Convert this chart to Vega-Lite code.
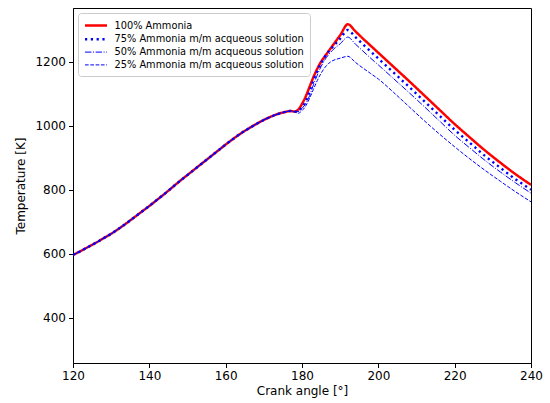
{
  "$schema": "https://vega.github.io/schema/vega-lite/v6.json",
  "width": 458,
  "height": 355,
  "autosize": {"type": "none"},
  "padding": {"left": 73, "top": 8, "right": 19, "bottom": 40},
  "background": "white",
  "config": {
    "font": "DejaVu Sans",
    "view": {"stroke": "black", "strokeWidth": 1},
    "axis": {
      "grid": false, "domainColor": "black", "tickColor": "black", "tickSize": 4.5,
      "labelFontSize": 12, "titleFontSize": 12, "titleFontWeight": "normal",
      "labelColor": "black", "titleColor": "black", "labelPadding": 3, "labelFont": "DejaVu Sans", "titleFont": "DejaVu Sans",
      "labelFlush": false, "format": "d"
    },
    "legend": {"labelFont": "DejaVu Sans"}
  },
  "data": {"values": [
    {"s":"100","x":120,"y":596},{"s":"100","x":122,"y":608},{"s":"100","x":124,"y":621},{"s":"100","x":126,"y":634},{"s":"100","x":128,"y":648},{"s":"100","x":130,"y":662},{"s":"100","x":132,"y":678},{"s":"100","x":134,"y":695},{"s":"100","x":136,"y":713},{"s":"100","x":138,"y":731},{"s":"100","x":140,"y":749},{"s":"100","x":142,"y":768},{"s":"100","x":144,"y":787},{"s":"100","x":146,"y":807},{"s":"100","x":148,"y":827},{"s":"100","x":150,"y":846},{"s":"100","x":152,"y":865},{"s":"100","x":154,"y":884},{"s":"100","x":156,"y":903},{"s":"100","x":158,"y":922},{"s":"100","x":160,"y":941},{"s":"100","x":162,"y":959},{"s":"100","x":164,"y":976},{"s":"100","x":166,"y":991},{"s":"100","x":168,"y":1005},{"s":"100","x":170,"y":1018},{"s":"100","x":172,"y":1029},{"s":"100","x":174,"y":1038},{"s":"100","x":176,"y":1044},{"s":"100","x":177,"y":1046},{"s":"100","x":178,"y":1044},
    {"s":"100","x":179,"y":1050},{"s":"100","x":180,"y":1068},{"s":"100","x":181,"y":1092},{"s":"100","x":182,"y":1122},{"s":"100","x":183,"y":1152},{"s":"100","x":184,"y":1178},{"s":"100","x":185,"y":1200},{"s":"100","x":186,"y":1217},{"s":"100","x":188,"y":1250},{"s":"100","x":190,"y":1283},{"s":"100","x":192,"y":1317},{"s":"100","x":194,"y":1295},{"s":"100","x":196,"y":1272},{"s":"100","x":198,"y":1250},{"s":"100","x":200,"y":1228},{"s":"100","x":204,"y":1184},{"s":"100","x":208,"y":1140},{"s":"100","x":212,"y":1095},{"s":"100","x":216,"y":1050},{"s":"100","x":220,"y":1005},{"s":"100","x":224,"y":963},{"s":"100","x":228,"y":922},{"s":"100","x":232,"y":884},{"s":"100","x":236,"y":848},{"s":"100","x":240,"y":815},

    {"s":"75","x":120,"y":596},{"s":"75","x":122,"y":608},{"s":"75","x":124,"y":621},{"s":"75","x":126,"y":634},{"s":"75","x":128,"y":648},{"s":"75","x":130,"y":662},{"s":"75","x":132,"y":678},{"s":"75","x":134,"y":695},{"s":"75","x":136,"y":713},{"s":"75","x":138,"y":731},{"s":"75","x":140,"y":749},{"s":"75","x":142,"y":768},{"s":"75","x":144,"y":787},{"s":"75","x":146,"y":807},{"s":"75","x":148,"y":827},{"s":"75","x":150,"y":846},{"s":"75","x":152,"y":865},{"s":"75","x":154,"y":884},{"s":"75","x":156,"y":903},{"s":"75","x":158,"y":922},{"s":"75","x":160,"y":941},{"s":"75","x":162,"y":959},{"s":"75","x":164,"y":976},{"s":"75","x":166,"y":991},{"s":"75","x":168,"y":1005},{"s":"75","x":170,"y":1018},{"s":"75","x":172,"y":1029},{"s":"75","x":174,"y":1038},{"s":"75","x":176,"y":1044},{"s":"75","x":177,"y":1046},{"s":"75","x":178,"y":1044},
    {"s":"75","x":179,"y":1046},{"s":"75","x":180,"y":1058},{"s":"75","x":181,"y":1076},{"s":"75","x":182,"y":1108},{"s":"75","x":183,"y":1142},{"s":"75","x":184,"y":1170},{"s":"75","x":185,"y":1195},{"s":"75","x":186,"y":1216},{"s":"75","x":188,"y":1246},{"s":"75","x":190,"y":1272},{"s":"75","x":192,"y":1299},{"s":"75","x":194,"y":1277},{"s":"75","x":196,"y":1254},{"s":"75","x":198,"y":1232},{"s":"75","x":200,"y":1210},{"s":"75","x":204,"y":1166},{"s":"75","x":208,"y":1122},{"s":"75","x":212,"y":1077},{"s":"75","x":216,"y":1032},{"s":"75","x":220,"y":987},{"s":"75","x":224,"y":946},{"s":"75","x":228,"y":905},{"s":"75","x":232,"y":868},{"s":"75","x":236,"y":832},{"s":"75","x":240,"y":800},

    {"s":"50","x":120,"y":596},{"s":"50","x":122,"y":608},{"s":"50","x":124,"y":621},{"s":"50","x":126,"y":634},{"s":"50","x":128,"y":648},{"s":"50","x":130,"y":662},{"s":"50","x":132,"y":678},{"s":"50","x":134,"y":695},{"s":"50","x":136,"y":713},{"s":"50","x":138,"y":731},{"s":"50","x":140,"y":749},{"s":"50","x":142,"y":768},{"s":"50","x":144,"y":787},{"s":"50","x":146,"y":807},{"s":"50","x":148,"y":827},{"s":"50","x":150,"y":846},{"s":"50","x":152,"y":865},{"s":"50","x":154,"y":884},{"s":"50","x":156,"y":903},{"s":"50","x":158,"y":922},{"s":"50","x":160,"y":941},{"s":"50","x":162,"y":959},{"s":"50","x":164,"y":976},{"s":"50","x":166,"y":991},{"s":"50","x":168,"y":1005},{"s":"50","x":170,"y":1018},{"s":"50","x":172,"y":1029},{"s":"50","x":174,"y":1038},{"s":"50","x":176,"y":1044},{"s":"50","x":177,"y":1046},{"s":"50","x":178,"y":1044},
    {"s":"50","x":179,"y":1044},{"s":"50","x":180,"y":1054},{"s":"50","x":181,"y":1070},{"s":"50","x":182,"y":1094},{"s":"50","x":183,"y":1128},{"s":"50","x":184,"y":1158},{"s":"50","x":185,"y":1185},{"s":"50","x":186,"y":1206},{"s":"50","x":188,"y":1236},{"s":"50","x":190,"y":1256},{"s":"50","x":192,"y":1277},{"s":"50","x":194,"y":1255},{"s":"50","x":196,"y":1233},{"s":"50","x":198,"y":1211},{"s":"50","x":200,"y":1190},{"s":"50","x":204,"y":1147},{"s":"50","x":208,"y":1104},{"s":"50","x":212,"y":1060},{"s":"50","x":216,"y":1015},{"s":"50","x":220,"y":970},{"s":"50","x":224,"y":930},{"s":"50","x":228,"y":891},{"s":"50","x":232,"y":855},{"s":"50","x":236,"y":821},{"s":"50","x":240,"y":789},

    {"s":"25","x":120,"y":596},{"s":"25","x":122,"y":608},{"s":"25","x":124,"y":621},{"s":"25","x":126,"y":634},{"s":"25","x":128,"y":648},{"s":"25","x":130,"y":662},{"s":"25","x":132,"y":678},{"s":"25","x":134,"y":695},{"s":"25","x":136,"y":713},{"s":"25","x":138,"y":731},{"s":"25","x":140,"y":749},{"s":"25","x":142,"y":768},{"s":"25","x":144,"y":787},{"s":"25","x":146,"y":807},{"s":"25","x":148,"y":827},{"s":"25","x":150,"y":846},{"s":"25","x":152,"y":865},{"s":"25","x":154,"y":884},{"s":"25","x":156,"y":903},{"s":"25","x":158,"y":922},{"s":"25","x":160,"y":941},{"s":"25","x":162,"y":959},{"s":"25","x":164,"y":976},{"s":"25","x":166,"y":991},{"s":"25","x":168,"y":1005},{"s":"25","x":170,"y":1018},{"s":"25","x":172,"y":1029},{"s":"25","x":174,"y":1038},{"s":"25","x":176,"y":1044},{"s":"25","x":177,"y":1046},{"s":"25","x":178,"y":1043},
    {"s":"25","x":179,"y":1039},{"s":"25","x":180,"y":1047},{"s":"25","x":181,"y":1062},{"s":"25","x":182,"y":1086},{"s":"25","x":183,"y":1114},{"s":"25","x":184,"y":1141},{"s":"25","x":185,"y":1164},{"s":"25","x":186,"y":1182},{"s":"25","x":187,"y":1195},{"s":"25","x":188,"y":1203},{"s":"25","x":190,"y":1211},{"s":"25","x":192,"y":1217},{"s":"25","x":194,"y":1198},{"s":"25","x":196,"y":1180},{"s":"25","x":198,"y":1163},{"s":"25","x":200,"y":1146},{"s":"25","x":204,"y":1104},{"s":"25","x":208,"y":1060},{"s":"25","x":212,"y":1016},{"s":"25","x":216,"y":974},{"s":"25","x":220,"y":934},{"s":"25","x":224,"y":896},{"s":"25","x":228,"y":860},{"s":"25","x":232,"y":826},{"s":"25","x":236,"y":793},{"s":"25","x":240,"y":762}
  ]},
  "mark": {"type": "line", "interpolate": "monotone", "clip": true},
  "encoding": {
    "x": {"field": "x", "type": "quantitative", "title": "Crank angle [°]",
      "scale": {"domain": [120, 240], "nice": false, "zero": false},
      "axis": {"values": [120, 140, 160, 180, 200, 220, 240], "titlePadding": 4}},
    "y": {"field": "y", "type": "quantitative", "title": "Temperature [K]",
      "scale": {"domain": [258, 1368], "nice": false, "zero": false},
      "axis": {"values": [400, 600, 800, 1000, 1200], "titlePadding": 7}},
    "color": {"field": "s", "type": "nominal", "title": null,
      "scale": {"domain": ["100", "75", "50", "25"], "range": ["#ff0000", "#0000ff", "#0000ff", "#0000ff"]},
      "legend": {
        "orient": "none", "legendX": 5, "legendY": 5,
        "symbolType": "M-1,0H3", "symbolSize": 121,
        "labelExpr": "datum.label == '100' ? '100% Ammonia' : datum.label + '% Ammonia m/m acqueous solution'",
        "labelFontSize": 9.8, "labelColor": "black", "labelOffset": 17, "labelLimit": 400,
        "rowPadding": 1.8, "padding": 5.5,
        "fillColor": "white", "strokeColor": "#cccccc", "cornerRadius": 3
      }},
    "strokeDash": {"field": "s", "type": "nominal", "title": null,
      "scale": {"type": "ordinal", "domain": ["100", "75", "50", "25"], "range": [[1, 0], [2.2, 3.6], [6.4, 1.6, 1, 1.6], [3.7, 1.6]]}},
    "strokeWidth": {"field": "s", "type": "nominal", "title": null,
      "scale": {"type": "ordinal", "domain": ["100", "75", "50", "25"], "range": [2.5, 2.4, 1, 1]}}
  }
}
